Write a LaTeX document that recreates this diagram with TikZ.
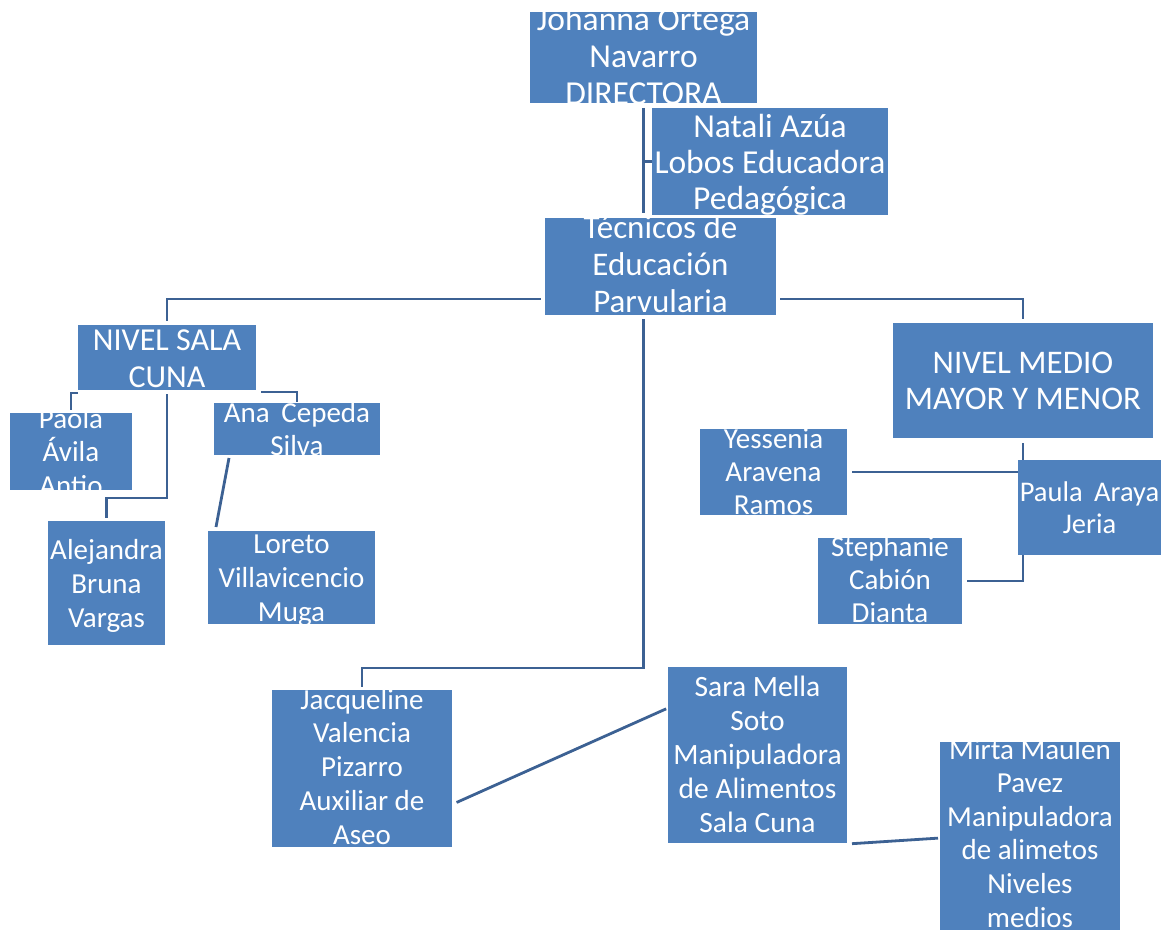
\documentclass[tikz,border=0pt]{standalone}
\usepackage{fontspec}
\setmainfont{Carlito}
\usetikzlibrary{calc,backgrounds}
\definecolor{boxblue}{HTML}{4F81BD}
\definecolor{linkblue}{HTML}{3C6193}
\tikzset{
  box/.style={draw=none, fill=boxblue, inner sep=0pt, outer sep=0pt},
  conn/.style={draw=linkblue, line width=2.8pt},
  txt/.style={text=white, align=flush center, text width=300pt, inner sep=0pt, anchor=base},
}
\newcommand{\fs}[2]{\fontsize{#1}{#2}\selectfont}
\begin{document}
\begin{tikzpicture}[x=1pt,y=-1pt]
\useasboundingbox (0,0) rectangle (1164,933);
% boxes
\node[box, minimum width=227pt, minimum height=91pt]  (J)  at (643.5,57.5) {};
\node[box, minimum width=236pt, minimum height=107pt] (N)  at (770,161.5) {};
\node[box, minimum width=231pt, minimum height=97pt]  (T)  at (660.5,266.5) {};
\node[box, minimum width=178pt, minimum height=65pt]  (SC) at (167,357.5) {};
\node[box, minimum width=260pt, minimum height=115pt] (MM) at (1023,380.5) {};
\node[box, minimum width=122pt, minimum height=77pt]  (Pa) at (71,451.5) {};
\node[box, minimum width=166pt, minimum height=52pt]  (An) at (297,429) {};
\node[box, minimum width=117pt, minimum height=124pt] (Al) at (106.5,583) {};
\node[box, minimum width=167pt, minimum height=93pt]  (Lo) at (291.5,577.5) {};
\node[box, minimum width=147pt, minimum height=86pt]  (Ye) at (773.5,472) {};
\node[box, minimum width=143pt, minimum height=95pt]  (PA) at (1089.5,507.5) {};
\node[box, minimum width=144pt, minimum height=86pt]  (St) at (890,581) {};
\node[box, minimum width=180pt, minimum height=157pt] (Jq) at (362,768.5) {};
\node[box, minimum width=179pt, minimum height=176pt] (Sa) at (757.5,755) {};
\node[box, minimum width=180pt, minimum height=188pt] (Mi) at (1030,836) {};
% texts, clipped to their boxes
\begin{scope}\clip (J.north west) rectangle (J.south east);
\node[txt, font=\fs{33.5}{37}] (Jt) at (643.5,31) {Johanna Ortega\\Navarro\\DIRECTORA};\end{scope}
\begin{scope}\clip (N.north west) rectangle (N.south east);
\node[txt, font=\fs{33.5}{36}] (Nt) at (770,138) {Natali Azúa\\Lobos Educadora\\Pedagógica};\end{scope}
\begin{scope}\clip (T.north west) rectangle (T.south east);
\node[txt, font=\fs{33}{37}] (Tt) at (660.5,239) {Técnicos de\\Educación\\Parvularia};\end{scope}
\begin{scope}\clip (SC.north west) rectangle (SC.south east);
\node[txt, font=\fs{32}{37}] (SCt) at (167,350) {NIVEL SALA\\CUNA};\end{scope}
\begin{scope}\clip (MM.north west) rectangle (MM.south east);
\node[txt, font=\fs{33}{36}] (MMt) at (1023,373) {NIVEL MEDIO\\MAYOR Y MENOR};\end{scope}
\begin{scope}\clip (Pa.north west) rectangle (Pa.south east);
\node[txt, font=\fs{29}{33.5}] (Pat) at (71,428) {Paola\\Ávila\\Antio};\end{scope}
\begin{scope}\clip (An.north west) rectangle (An.south east);
\node[txt, font=\fs{29}{33}] (Ant) at (297,422) {Ana\hspace{0.4em}Cepeda\\Silva};\end{scope}
\begin{scope}\clip (Al.north west) rectangle (Al.south east);
\node[txt, font=\fs{29}{34}] (Alt) at (106.5,559) {Alejandra\\Bruna\\Vargas};\end{scope}
\begin{scope}\clip (Lo.north west) rectangle (Lo.south east);
\node[txt, font=\fs{29}{34}] (Lot) at (291.5,553) {Loreto\\Villavicencio\\Muga};\end{scope}
\begin{scope}\clip (Ye.north west) rectangle (Ye.south east);
\node[txt, font=\fs{29}{33}] (Yet) at (773.5,448) {Yessenia\\Aravena\\Ramos};\end{scope}
\begin{scope}\clip (PA.north west) rectangle (PA.south east);
\node[txt, font=\fs{28.5}{32}] (PAt) at (1089.5,501) {Paula\hspace{0.4em}Araya\\Jeria};\end{scope}
\begin{scope}\clip (St.north west) rectangle (St.south east);
\node[txt, font=\fs{29}{33}] (Stt) at (890,556) {Stephanie\\Cabión\\Dianta};\end{scope}
\begin{scope}\clip (Jq.north west) rectangle (Jq.south east);
\node[txt, font=\fs{29}{33.75}] (Jqt) at (362,709) {Jacqueline\\Valencia\\Pizarro\\Auxiliar de\\Aseo};\end{scope}
\begin{scope}\clip (Sa.north west) rectangle (Sa.south east);
\node[txt, font=\fs{29.5}{34}] (Sat) at (757.5,696) {Sara Mella\\Soto\\Manipuladora\\de Alimentos\\Sala Cuna};\end{scope}
\begin{scope}\clip (Mi.north west) rectangle (Mi.south east);
\node[txt, font=\fs{29}{33.6}] (Mit) at (1030,759) {Mirta Maulen\\Pavez\\Manipuladora\\de alimetos\\Niveles\\medios};\end{scope}
% connectors
\coordinate (tjy) at (0,668);
\coordinate (aly) at (0,498);
\begin{pgfonlayer}{background}
\draw[conn, shorten <=5pt, shorten >=5pt] (J.south) -- (J.south |- T.north);
\draw[conn] (J.south |- N.west) -- (N.west);
\draw[conn, shorten <=4pt, shorten >=4pt] ([yshift=16pt]T.south west) -| (SC.north);
\draw[conn, shorten <=4pt, shorten >=4pt] ([yshift=16pt]T.south east) -| (MM.north);
\draw[conn, shorten <=4pt, shorten >=3pt] (J.south |- T.south) -- (J.south |- tjy) -| (Jq.north);
\draw[conn, shorten >=3pt] ([yshift=-3pt]SC.south west) -| (Pa.north);
\draw[conn, shorten <=4pt, shorten >=3pt] (SC.south) -- (SC.south |- aly) -| (Al.north);
\draw[conn, shorten <=5pt, shorten >=1pt] ([yshift=-2pt]SC.south east) -| (An.north);
\draw[conn] ([xshift=15pt,yshift=-3pt]An.south west) -- ([xshift=8pt,yshift=4pt]Lo.north west);
\draw[conn, shorten <=5pt, shorten >=5pt] (MM.south) |- (Ye.east);
\draw[conn, shorten <=5pt, shorten >=5pt] (MM.south) |- (St.east);
\draw[conn, shorten <=5pt, shorten >=2pt] ([yshift=-36pt]Jq.east) -- ([yshift=47pt]Sa.west);
\draw[conn, shorten <=5pt, shorten >=2pt] ([yshift=-1pt]Sa.south east) -- ([yshift=-2pt]Mi.west);
\end{pgfonlayer}
\end{tikzpicture}
\end{document}
